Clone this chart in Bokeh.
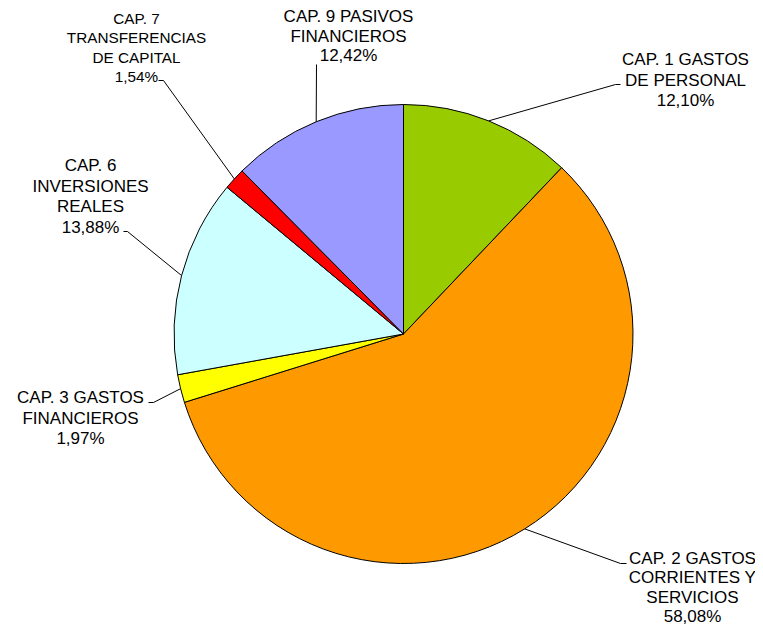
import math
from bokeh.plotting import figure
from bokeh.models import Range1d
from bokeh.core.properties import value
from bokeh.embed import file_html
from bokeh.resources import INLINE

# ---- data ----
categories = ["CAP. 1 GASTOS DE PERSONAL", "CAP. 2 GASTOS CORRIENTES Y SERVICIOS",
              "CAP. 3 GASTOS FINANCIEROS", "CAP. 6 INVERSIONES REALES",
              "CAP. 7 TRANSFERENCIAS DE CAPITAL", "CAP. 9 PASIVOS FINANCIEROS"]
percentages = [12.10, 58.08, 1.97, 13.88, 1.54, 12.42]
pct_labels = ["12,10%", "58,08%", "1,97%", "13,88%", "1,54%", "12,42%"]
label_lines = [
    ["CAP. 1 GASTOS", "DE PERSONAL"],
    ["CAP. 2 GASTOS", "CORRIENTES Y", "SERVICIOS"],
    ["CAP. 3 GASTOS", "FINANCIEROS"],
    ["CAP. 6", "INVERSIONES", "REALES"],
    ["CAP. 7", "TRANSFERENCIAS", "DE CAPITAL"],
    ["CAP. 9 PASIVOS", "FINANCIEROS"],
]
colors = ["#99CC00", "#FF9900", "#FFFF00", "#CCFFFF", "#FF0000", "#9999FF"]

# ---- layout (screen pixel coordinates, y downward) ----
W, H = 755, 627
def Y(ys):
    return H - ys

CX, CY, R = 403, 333.5, 229.5
# label centre x, first line centre y, line spacing, font size
label_pos = [(685, 59, 20.5, "17px"), (692, 558, 19.4, "17px"), (80, 397, 20.5, "17px"),
             (90, 165, 20.5, "17px"), (136, 18, 19.3, "15.3px"), (348, 16, 19.5, "17px")]
# leader line: (elbow point, end point) in screen coords
leaders = [((615, 84), (620, 84)), ((620, 563), (626, 563)), ((153, 402), (148, 402)),
           ((127, 231), (123, 231)), ((163, 80), (158, 80)), ((316, 64), (316, 64))]

p = figure(width=W, height=H, output_backend="svg", toolbar_location=None,
           x_range=Range1d(0, W), y_range=Range1d(0, H),
           min_border=0, outline_line_color=None)
p.axis.visible = False
p.grid.visible = False
p.background_fill_color = "white"
p.border_fill_color = "white"

total = sum(percentages)
cum = 0.0
starts, ends, mids = [], [], []
for v in percentages:
    a0 = cum / total
    cum += v
    a1 = cum / total
    starts.append(math.pi / 2 - a1 * 2 * math.pi)
    ends.append(math.pi / 2 - a0 * 2 * math.pi)
    mids.append((a0 + a1) / 2 * 2 * math.pi)

p.wedge(x=CX, y=Y(CY), radius=R, start_angle=starts, end_angle=ends,
        fill_color=colors, line_color="black", line_width=1)

# leader lines
for i, m in enumerate(mids):
    ex = CX + R * math.sin(m)
    ey = CY - R * math.cos(m)
    (bx, by), (tx, ty) = leaders[i]
    p.line([ex, bx, tx], [Y(ey), Y(by), Y(ty)], line_color="black", line_width=1)

# labels
for i, lines in enumerate(label_lines):
    lx, ly, sp, fs = label_pos[i]
    texts = lines + [pct_labels[i]]
    xs = [lx] * len(texts)
    ys = [Y(ly + k * sp) for k in range(len(texts))]
    p.text(x=xs, y=ys, text=texts, text_font=value("Liberation Sans"),
           text_font_size=fs, text_align="center", text_baseline="middle",
           text_color="black")

open("out.html", "w").write(file_html(p, INLINE))
